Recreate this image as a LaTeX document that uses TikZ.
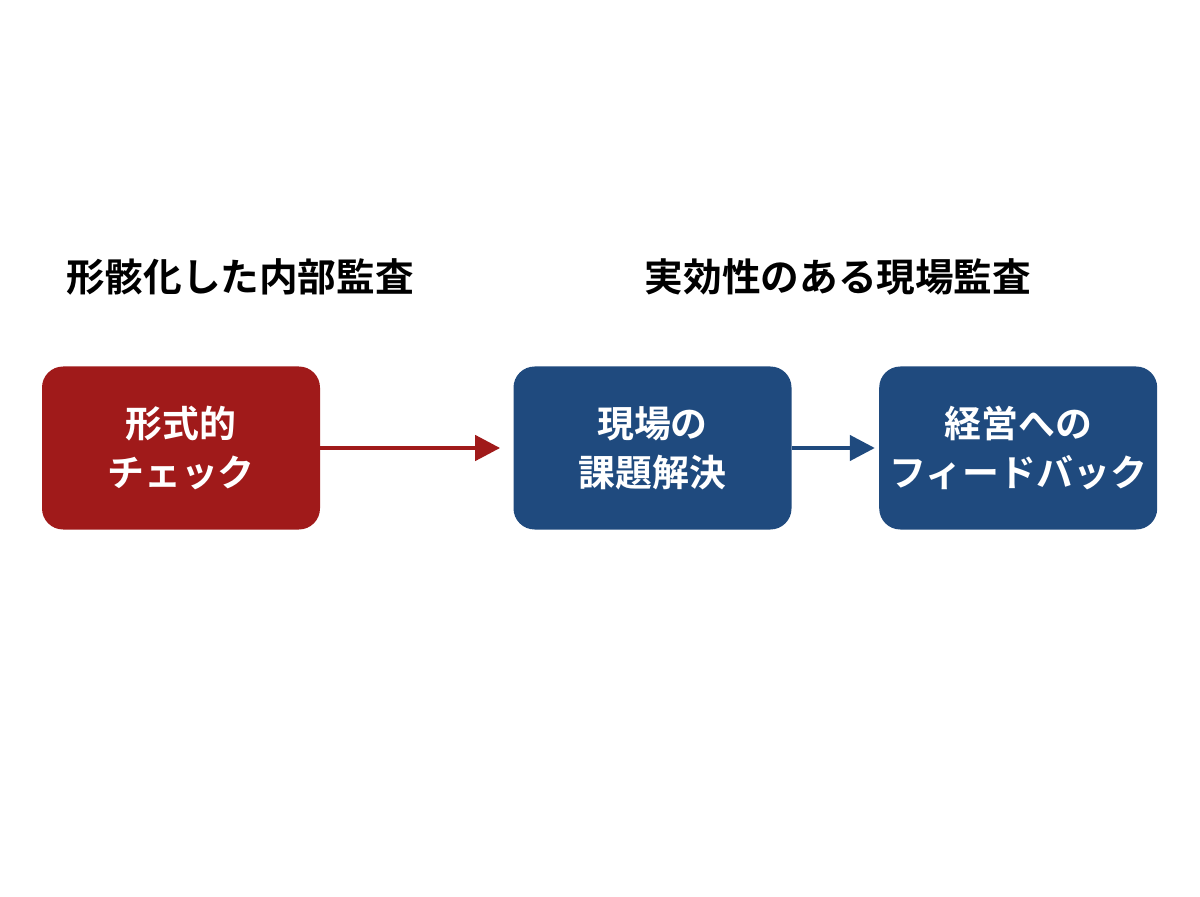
\documentclass[tikz,border=0pt]{standalone}
\usepackage{fontspec}
\setmainfont{Noto Sans CJK JP}[BoldFont={* Bold}]
\usetikzlibrary{positioning,arrows.meta}
\definecolor{auditred}{HTML}{A01A1A}
\definecolor{auditblue}{HTML}{1F4A7E}
\begin{document}
\begin{tikzpicture}[auto,
            arrowstyle/.style={-{Triangle[length=5mm, width=5mm]}, line width=2.5pt}]
            \useasboundingbox (0,0) rectangle (24,17.92);
            % A box style
            \tikzstyle{boxnode} = [rectangle, rounded corners=12pt, text=white, font=\bfseries\fontsize{21}{28}\selectfont, align=center, minimum width=5.56cm, minimum height=3.26cm]
            \tikzstyle{titlenode} = [font=\bfseries\fontsize{22}{26}\selectfont]
            % Define the nodes
            \node (formal) [boxnode, fill=auditred] at (3.62,8.96) {形式的\\チェック};
            \node (site) [boxnode, fill=auditblue] at (13.05,8.96) {現場の\\課題解決};
            \node (feedback) [boxnode, fill=auditblue, right=1.74cm of site] {経営への\\フィードバック};
            \node (oldtitle) [titlenode] at (4.8,12.38) {形骸化した内部監査};
            \node (newtitle) [titlenode] at (16.76,12.38) {実効性のある現場監査};
            % Draw the arrows
            \draw [arrowstyle, auditred] (formal) -- ([xshift=-0.26cm]site.west);
            \draw [arrowstyle, auditblue] (site) -- ([xshift=-0.08cm]feedback.west);
        \end{tikzpicture}
\end{document}
